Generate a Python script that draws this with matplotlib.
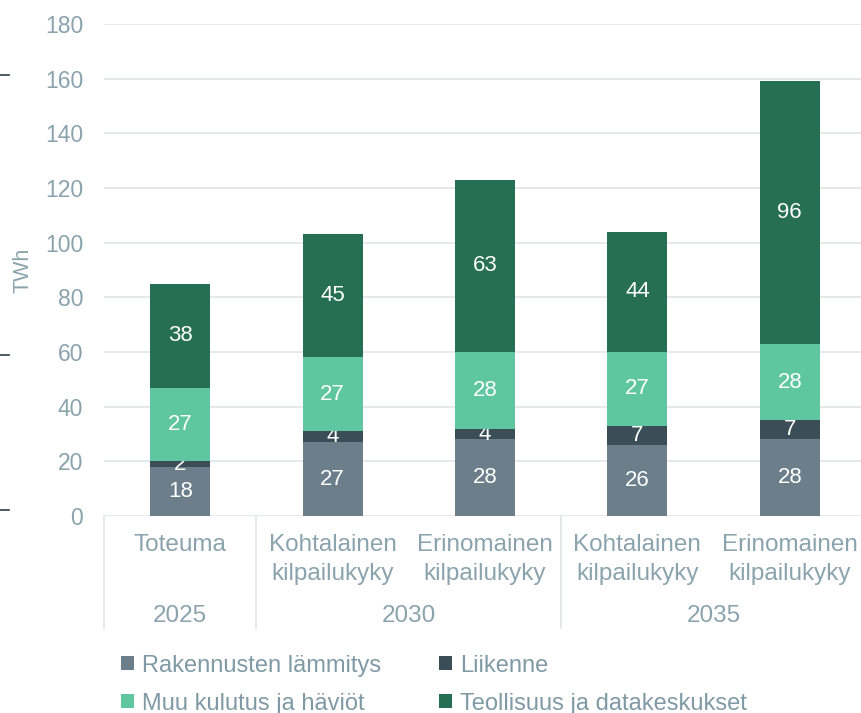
import matplotlib
matplotlib.use("Agg")
import matplotlib.pyplot as plt
import matplotlib.transforms as mtransforms
from matplotlib.lines import Line2D
import numpy as np

plt.rcParams['font.family'] = ['Liberation Sans', 'DejaVu Sans']

# Data (TWh)
scenarios = ["Toteuma", "Kohtalainen\nkilpailukyky", "Erinomainen\nkilpailukyky",
             "Kohtalainen\nkilpailukyky", "Erinomainen\nkilpailukyky"]
years = ["2025", "2030", "2035"]
year_groups = [[0], [1, 2], [3, 4]]

series_names = ["Rakennusten lämmitys", "Liikenne", "Muu kulutus ja häviöt",
                "Teollisuus ja datakeskukset"]
rakennukset = [18, 27, 28, 26, 28]
liikenne = [2, 4, 4, 7, 7]
muu = [27, 27, 28, 27, 28]
teollisuus = [38, 45, 63, 44, 96]
colors = ["#6b7e8a", "#3b4d57", "#5ec6a0", "#266f54"]

text_col = "#8aa3ad"
grid_col = "#e4e7e8"

fig = plt.figure(figsize=(8.61, 7.13), dpi=100)
ax = fig.add_axes([104/861, 197/713, 762/861, 492/713])

x = np.arange(len(scenarios))
bottom = np.zeros(len(scenarios))
bars = []
for vals, name, c in zip([rakennukset, liikenne, muu, teollisuus], series_names, colors):
    b = ax.bar(x, vals, 0.395, bottom=bottom, color=c, label=name, zorder=3)
    ax.bar_label(b, label_type='center', color='white', fontsize=16)
    bottom += np.array(vals)
    bars.append(b)

ax.set_xlim(-0.5, 4.5)
ax.set_ylim(0, 180)
ax.set_yticks(np.arange(0, 181, 20))
ax.tick_params(axis='y', length=0, pad=15, labelsize=16.5, labelcolor=text_col)
ax.set_xticks([])
for s in ax.spines.values():
    s.set_visible(False)
ax.grid(axis='y', color=grid_col, lw=1.3, zorder=0)
ax.set_ylabel("TWh", color=text_col, fontsize=15.5, labelpad=8)

# category axis
trans = mtransforms.blended_transform_factory(ax.transData, ax.transAxes)
for xs in [-0.5, 0.5, 2.5, 4.5]:
    ax.plot([xs, xs], [0, -0.228], color=grid_col, lw=1.3, transform=trans, clip_on=False)
for i, lab in enumerate(scenarios):
    ax.text(i, -0.036, lab, transform=trans, ha='center', va='top', fontsize=17.5,
            color=text_col, linespacing=1.4)
for yr, grp in zip(years, year_groups):
    ax.text(np.mean(grp), -0.204, yr, transform=trans, ha='center', va='center',
            fontsize=17.5, color=text_col)

# legend (row-wise order)
order = [0, 2, 1, 3]
leg = fig.legend(handles=[bars[i] for i in order], labels=[series_names[i] for i in order],
                 ncol=2, loc='upper left',
                 bbox_to_anchor=(104/861, 1 - 638/713), frameon=False, fontsize=17,
                 handlelength=0.55, handleheight=0.55, handletextpad=0.35,
                 columnspacing=2.45, labelspacing=0.68, borderpad=0.2)
for t in leg.get_texts():
    t.set_color("#7f9aa4")

# small marks at left edge
for yp in [75, 355, 510]:
    fig.add_artist(Line2D([0, 9/861], [1 - yp/713, 1 - yp/713], color="#2e3d45", lw=1.2))

fig.savefig("out.png", dpi=100)
